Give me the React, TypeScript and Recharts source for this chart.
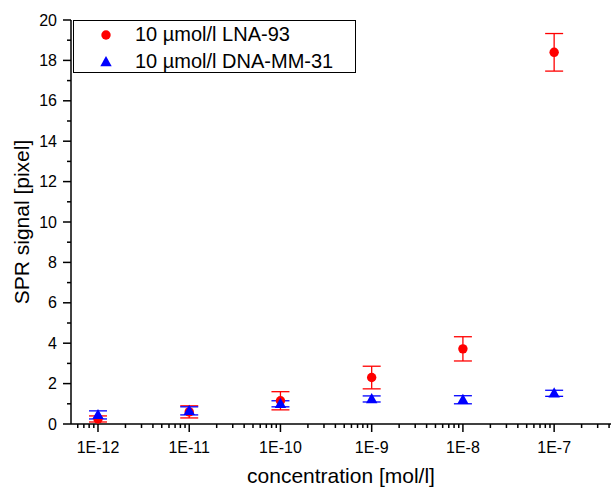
import React from 'react'
import { ScatterChart, Scatter, XAxis, YAxis, ErrorBar, Legend } from 'recharts'

const concentrations = [1e-12, 1e-11, 1e-10, 1e-9, 1e-8, 1e-7]
const lnaSignal = [0.25, 0.6, 1.15, 2.3, 3.72, 18.4]
const lnaError = [0.15, 0.3, 0.45, 0.56, 0.6, 0.93]
const mmSignal = [0.45, 0.65, 1.0, 1.24, 1.2, 1.52]
const mmError = [0.2, 0.2, 0.15, 0.15, 0.2, 0.15]
const seriesNames = ['10 µmol/l LNA-93', '10 µmol/l DNA-MM-31']

const majorX = [1e-12, 1e-11, 1e-10, 1e-9, 1e-8, 1e-7]
const xDomain = [5.06e-13, 4.2e-7]
const yMajor = [0, 2, 4, 6, 8, 10, 12, 14, 16, 18, 20]
const yTicks = [0, 1, 2, 3, 4, 5, 6, 7, 8, 9, 10, 11, 12, 13, 14, 15, 16, 17, 18, 19, 20]

// log minor ticks 2..9 per decade, inside the domain
const xTicks: number[] = []
for (let e = -13; e <= -7; e++) {
  for (let m = 1; m <= 9; m++) {
    const v = Number(`${m}e${e}`)
    if (v >= xDomain[0] && v <= xDomain[1]) xTicks.push(v)
  }
}

const lnaData = concentrations.map((c, i) => ({ c, v: lnaSignal[i], err: lnaError[i] }))
const mmData = concentrations.map((c, i) => ({ c, v: mmSignal[i], err: mmError[i] }))

const FONT = '"Liberation Sans", Arial, sans-serif'

const XTick = (props: any) => {
  const { x, y, payload } = props
  const major = majorX.includes(payload.value)
  const exp = Math.round(Math.log10(payload.value))
  return (
    <g>
      <line x1={x} x2={x} y1={y} y2={y + (major ? 8 : 4)} stroke="#000" strokeWidth={1.5} />
      {major && (
        <text x={x} y={y + 29} textAnchor="middle" fontSize={16} fontFamily={FONT} fill="#000">
          {`1E${exp}`}
        </text>
      )}
    </g>
  )
}

const YTick = (props: any) => {
  const { x, y, payload } = props
  const major = yMajor.includes(payload.value)
  return (
    <g>
      <line x1={x} x2={x - (major ? 8 : 4)} y1={y} y2={y} stroke="#000" strokeWidth={1.5} />
      {major && (
        <text x={x - 14} y={y + 5.5} textAnchor="end" fontSize={16} fontFamily={FONT} fill="#000">
          {payload.value}
        </text>
      )}
    </g>
  )
}

const Circle = (props: any) => <circle cx={props.cx} cy={props.cy} r={4.7} fill="#ff0000" />
const Triangle = (props: any) => {
  const { cx, cy } = props
  return <polygon points={`${cx},${cy - 6} ${cx - 5.7},${cy + 4.2} ${cx + 5.7},${cy + 4.2}`} fill="#0000ff" />
}

const LegendBox = () => (
  <div
    style={{
      border: '1px solid #000',
      width: 281,
      height: 51,
      background: '#fff',
      fontFamily: FONT,
      fontSize: 20,
      color: '#000',
    }}
  >
    {seriesNames.map((name, i) => (
      <div key={name} style={{ height: 27, display: 'flex', alignItems: 'center', position: 'relative' }}>
        <svg width={14} height={14} style={{ position: 'absolute', left: 25 }}>
          {i === 0 ? (
            <circle cx={7} cy={7} r={4.7} fill="#ff0000" />
          ) : (
            <polygon points="7,1 1.3,11.2 12.7,11.2" fill="#0000ff" />
          )}
        </svg>
        <span style={{ position: 'absolute', left: 61, lineHeight: '27px' }}>{name}</span>
      </div>
    ))}
  </div>
)

export default function App() {
  return (
    <div style={{ position: 'absolute', left: 0, top: 0, width: 611, height: 488, background: '#fff' }}>
      <ScatterChart width={611} height={488} margin={{ top: 20, right: 0, bottom: 0, left: 0 }}>
        <XAxis
          type="number"
          dataKey="c"
          scale="log"
          domain={xDomain}
          allowDataOverflow
          ticks={xTicks}
          interval={0}
          height={64}
          tickSize={0}
          tickMargin={0}
          tickLine={false}
          tick={<XTick />}
          axisLine={{ stroke: '#000', strokeWidth: 1.5 }}
          label={{
            value: 'concentration [mol/l]',
            position: 'insideBottom',
            offset: 5,
            style: { fontFamily: FONT, fontSize: 21, fill: '#000' },
          }}
        />
        <YAxis
          type="number"
          dataKey="v"
          domain={[0, 20]}
          allowDataOverflow
          ticks={yTicks}
          interval={0}
          width={71}
          tickSize={0}
          tickMargin={0}
          tickLine={false}
          tick={<YTick />}
          axisLine={{ stroke: '#000', strokeWidth: 1.5 }}
          label={{
            value: 'SPR signal [pixel]',
            angle: -90,
            position: 'insideLeft',
            offset: 22,
            style: { fontFamily: FONT, fontSize: 21, fill: '#000', textAnchor: 'middle' },
          }}
        />
        <Legend
          layout="vertical"
          align="center"
          verticalAlign="middle"
          content={<LegendBox />}
          wrapperStyle={{ left: 73, top: 20, width: 283, height: 53 }}
        />
        <Scatter name={seriesNames[0]} data={lnaData} shape={<Circle />} isAnimationActive={false}>
          <ErrorBar dataKey="err" direction="y" width={9} stroke="#ff0000" strokeWidth={1.3} />
        </Scatter>
        <Scatter name={seriesNames[1]} data={mmData} shape={<Triangle />} isAnimationActive={false}>
          <ErrorBar dataKey="err" direction="y" width={9} stroke="#0000ff" strokeWidth={1.3} />
        </Scatter>
      </ScatterChart>
    </div>
  )
}
